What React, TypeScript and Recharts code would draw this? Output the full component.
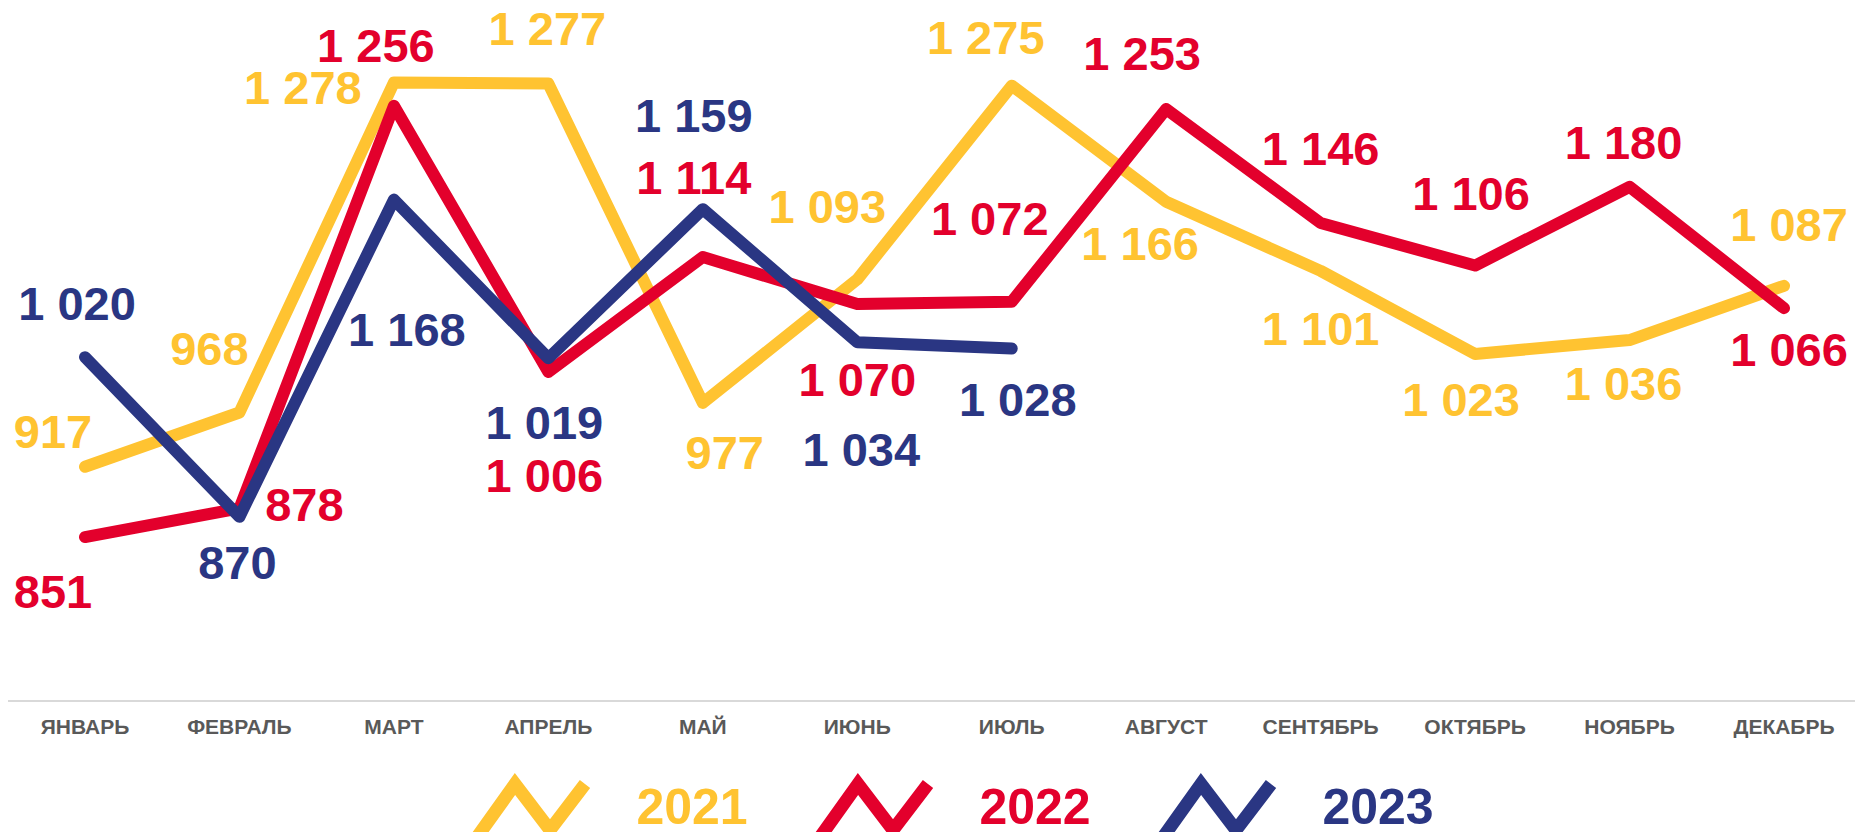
import React from 'react';
import { LineChart, Line, XAxis, YAxis, LabelList, Legend } from 'recharts';

const MONTHS = ['ЯНВАРЬ', 'ФЕВРАЛЬ', 'МАРТ', 'АПРЕЛЬ', 'МАЙ', 'ИЮНЬ', 'ИЮЛЬ', 'АВГУСТ', 'СЕНТЯБРЬ', 'ОКТЯБРЬ', 'НОЯБРЬ', 'ДЕКАБРЬ'];
const Y2021 = [917, 968, 1278, 1277, 977, 1093, 1275, 1166, 1101, 1023, 1036, 1087];
const Y2022 = [851, 878, 1256, 1006, 1114, 1070, 1072, 1253, 1146, 1106, 1180, 1066];
const Y2023: (number | null)[] = [1020, 870, 1168, 1019, 1159, 1034, 1028, null, null, null, null, null];
const SERIES_NAMES = ['2021', '2022', '2023'];

// label placement (style config): offset of label center from point
const OFF_2021: [number, number][] = [[-32, -34], [-30, -62], [-91, 7], [-1, -54], [22, 51], [-30, -71], [-26, -47], [-26, 43], [0, 59], [-14, 47], [-6, 45], [5, -60]];
const OFF_2022: [number, number][] = [[-32, 56], [65, -2], [-18, -59], [-4, 105], [-9, -78], [0, 77], [-22, -82], [-24, -54], [0, -73], [-4, -71], [-6, -43], [5, 43]];
const OFF_2023: [number, number][] = [[-8, -52], [-2, 47], [13, 131], [-4, 66], [-9, -92], [4, 109], [6, 52]];

const COLORS = ['#FFC331', '#E3002C', '#2A3683'];
const FONT = '"Liberation Sans", Arial, sans-serif';

const data = MONTHS.map((m, i) => ({ month: m, y2021: Y2021[i], y2022: Y2022[i], y2023: Y2023[i] }));

const fmt = (v: number) => (v >= 1000 ? `${Math.floor(v / 1000)} ${String(v % 1000).padStart(3, '0')}` : String(v));

const makeLabel = (offs: [number, number][], color: string) => (props: any) => {
  const { x, y, value, index } = props;
  if (value == null || x == null || y == null) return null;
  const o = offs[index] || [0, -40];
  return (
    <text x={x + o[0]} y={y + o[1] + 15} textAnchor="middle" fill={color} fontFamily={FONT} fontWeight="bold" fontSize={47}>
      {fmt(Number(value))}
    </text>
  );
};

const Tick = (props: any) => {
  const { x, y, payload } = props;
  return (
    <text x={x} y={y + 33} textAnchor="middle" fill="#595959" fontFamily={FONT} fontWeight="bold" fontSize={21}>
      {payload.value}
    </text>
  );
};

const LegendContent = (props: any) => {
  const payload = props.payload || [];
  return (
    <div style={{ height: 0, overflow: 'visible', position: 'relative' }}>
      <svg width={1855} height={62} style={{ position: 'absolute', left: 0, top: 0, overflow: 'hidden' }}>
        {payload.map((p: any, i: number) => {
          const x0 = 473 + i * 343;
          const tx = 692 + i * 343;
          return (
            <g key={i}>
              <polyline
                points={`${x0 + 2},${70} ${x0 + 42},${14} ${x0 + 77},${60} ${x0 + 112},${14}`}
                fill="none"
                stroke={p.color}
                strokeWidth={13}
                strokeLinejoin="miter"
              />
              <text x={tx} y={54} textAnchor="middle" fill={p.color} fontFamily={FONT} fontWeight="bold" fontSize={50}>
                {p.value}
              </text>
            </g>
          );
        })}
      </svg>
    </div>
  );
};

export default function App() {
  return (
    <div style={{ position: 'absolute', left: 0, top: 0, width: 1855, height: 832, background: '#fff' }}>
      <LineChart width={1855} height={832} data={data} margin={{ top: 9, right: 0, left: 8, bottom: 101 }}>
        <XAxis
          dataKey="month"
          height={30}
          padding={{ left: 77, right: 71 }}
          axisLine={{ stroke: '#D9D9D9', strokeWidth: 2 }}
          tickLine={false}
          tickSize={0}
          tickMargin={0}
          interval={0}
          tick={<Tick />}
        />
        <YAxis hide domain={[697, 1347]} />
        <Legend
          verticalAlign="bottom"
          content={<LegendContent />}
          wrapperStyle={{ left: 0, top: 770, bottom: 'auto', width: 1855 }}
        />
        <Line name={SERIES_NAMES[0]} dataKey="y2021" stroke={COLORS[0]} strokeWidth={12} strokeLinecap="round" strokeLinejoin="round" dot={false} isAnimationActive={false}>
          <LabelList dataKey="y2021" content={makeLabel(OFF_2021, COLORS[0])} />
        </Line>
        <Line name={SERIES_NAMES[1]} dataKey="y2022" stroke={COLORS[1]} strokeWidth={12} strokeLinecap="round" strokeLinejoin="round" dot={false} isAnimationActive={false}>
          <LabelList dataKey="y2022" content={makeLabel(OFF_2022, COLORS[1])} />
        </Line>
        <Line name={SERIES_NAMES[2]} dataKey="y2023" stroke={COLORS[2]} strokeWidth={12} strokeLinecap="round" strokeLinejoin="round" dot={false} isAnimationActive={false}>
          <LabelList dataKey="y2023" content={makeLabel(OFF_2023, COLORS[2])} />
        </Line>
      </LineChart>
    </div>
  );
}
